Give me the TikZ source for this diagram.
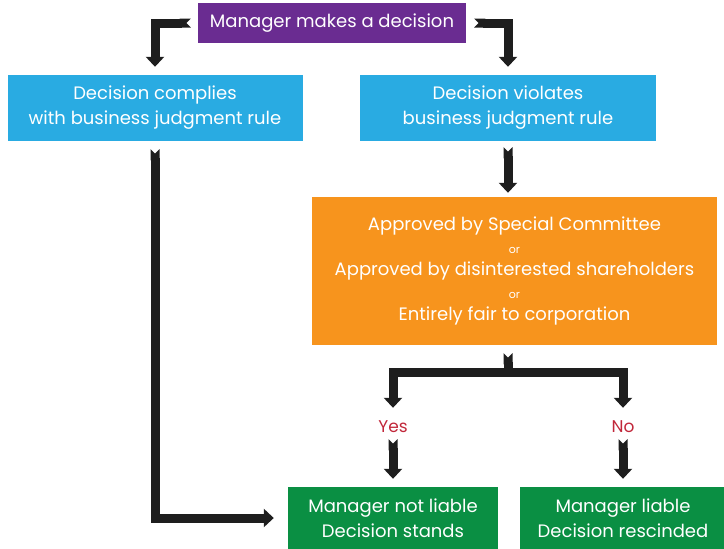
\documentclass[tikz,border=0pt]{standalone}
\usepackage{fontspec}
\setmainfont{Poppins}
\usepackage{tikz}
\usetikzlibrary{arrows.meta, positioning, calc}
\definecolor{royal}{HTML}{6A2C91}
\definecolor{sky}{HTML}{29ABE2}
\definecolor{amber}{HTML}{F7941D}
\definecolor{forest}{HTML}{0A8F43}
\definecolor{brick}{HTML}{C1273A}
\definecolor{ink}{HTML}{1E1E1E}
\newcommand{\orline}{{\fontsize{11}{22.5}\selectfont or}}

\begin{document}
\begin{tikzpicture}[x=1pt, y=-1pt,
    box/.style={fill=#1, text=white, align=center, inner sep=0pt, font=\fontsize{18}{25}\selectfont},
    answer/.style={text=brick, inner sep=0pt, minimum height=24pt, font=\fontsize{17}{20}\selectfont},
    flow/.style={draw=ink, line width=9pt, {Triangle Cap[reversed]}-{Triangle[width=18pt,length=10pt]}},
    split/.style={draw=ink, line width=9pt, -{Triangle[width=18pt,length=10pt]}},
    stem/.style={draw=ink, line width=9pt, {Triangle Cap[reversed]}-}]
    \useasboundingbox (0,0) rectangle (724,549);
    % Boxes
    \node[box=royal, minimum width=268pt, minimum height=40pt] (make) at (332,23) {Manager makes a decision};
    \node[box=sky, minimum width=295pt, minimum height=66pt] (comply) at (155,108) {Decision complies\\with business judgment rule};
    \node[box=sky, minimum width=296pt, minimum height=66pt] (violate) at (508,108) {Decision violates\\business judgment rule};
    \node[box=amber, minimum width=405pt, minimum height=148pt, font=\fontsize{18}{22.5}\selectfont] (test) at (514.5,271)
        {Approved by Special Committee\\\orline\\Approved by disinterested shareholders\\\orline\\Entirely fair to corporation};
    \node[box=forest, minimum width=210pt, minimum height=62pt] (stands) at (393,518) {Manager not liable\\Decision stands};
    \node[box=forest, minimum width=206pt, minimum height=62pt] (rescind) at (623,518) {Manager liable\\Decision rescinded};
    % Answers
    \node[answer] (yes) at (393,427) {Yes};
    \node[answer] (no) at (623,427) {No};
    \coordinate (fork) at (508,372);
    % Arrows
    \draw[flow, shorten <=7pt, shorten >=8pt] (make.west) -| (comply.north);
    \draw[flow, shorten <=8pt, shorten >=8pt] (make.east) -| (violate.north);
    \draw[flow, shorten <=8pt, shorten >=14pt] (comply.south) |- (stands.west);
    \draw[flow, shorten <=6pt, shorten >=4pt] (violate.south) -- (violate.south |- test.north);
    \draw[stem, shorten <=8pt] (violate.south |- test.south) -- (fork);
    \draw[split, shorten >=7pt] (fork) -| (yes.north);
    \draw[split, shorten >=7pt] (fork) -| (no.north);
    \draw[flow, shorten >=8pt] (yes.south) -- (stands.north);
    \draw[flow, shorten >=8pt] (no.south) -- (rescind.north);
\end{tikzpicture}
\end{document}
